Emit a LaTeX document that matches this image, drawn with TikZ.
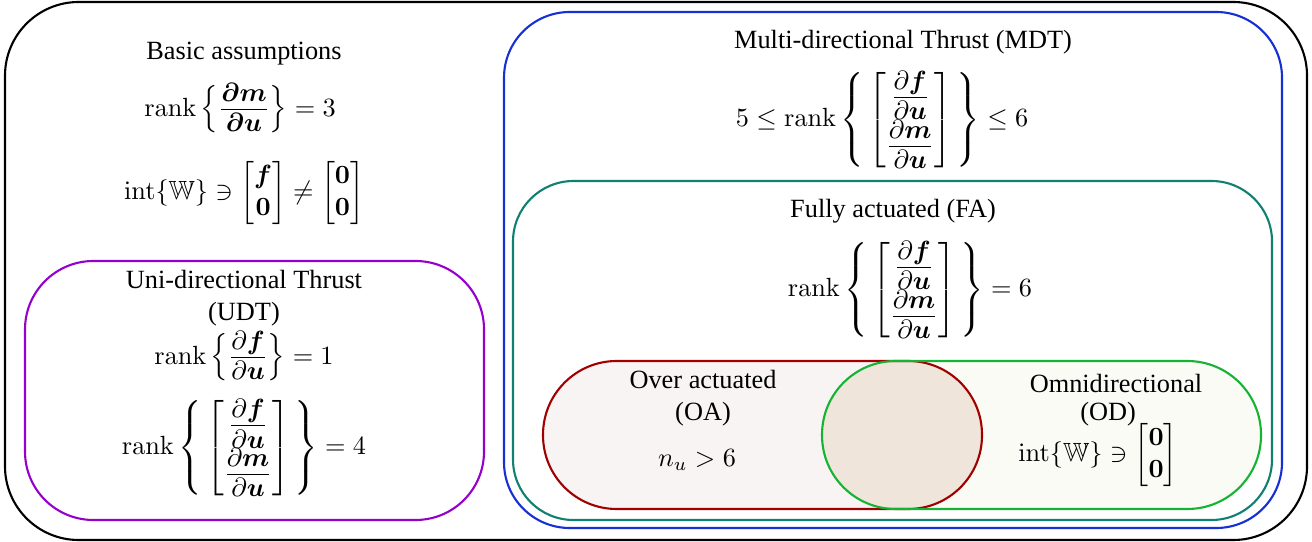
\documentclass[tikz,border=0pt]{standalone}
\usepackage{amsmath,amssymb}
\usepackage[no-math]{fontspec}
\setmainfont{Liberation Serif}
\definecolor{mdtblue}{RGB}{22,48,212}
\definecolor{fateal}{RGB}{16,128,112}
\definecolor{udtpurple}{RGB}{150,0,205}
\definecolor{oared}{RGB}{160,0,0}
\definecolor{odgreen}{RGB}{20,180,50}
\definecolor{oafill}{RGB}{248,244,243}
\definecolor{odfill}{RGB}{250,251,245}
\definecolor{lensfill}{RGB}{239,229,219}
\newcommand{\numstrut}{\rule[-2.6pt]{0pt}{2.6pt}}
\newcommand{\denstrut}{\rule{0pt}{7.8pt}}
\newcommand{\pdu}[1]{{\textstyle\frac{\textstyle\partial\boldsymbol{#1}\numstrut}{\textstyle\denstrut\partial\boldsymbol{u}}}}
\newcommand{\pdub}[1]{{\textstyle\frac{\textstyle\boldsymbol{\partial #1}\numstrut}{\textstyle\denstrut\boldsymbol{\partial u}}}}
\newcommand{\jacm}{\left\{\,\begin{bmatrix}\pdu{f}\\[0.5pt]\pdu{m}\end{bmatrix}\,\right\}}
\begin{document}
\begin{tikzpicture}[x=0.38pt,y=-0.38pt,
  setline/.style={line width=0.8pt},
  lbl/.style={align=center, inner sep=1pt}]
\useasboundingbox (0,0) rectangle (1312,542);
% sets
\draw[setline, black, rounded corners=28pt] (5,2) rectangle (1307,540);
\draw[setline, mdtblue, rounded corners=25pt] (504,12) rectangle (1282,528);
\draw[setline, fateal, rounded corners=23pt] (513,181) rectangle (1272,520);
\draw[setline, udtpurple, rounded corners=26pt] (25,261) rectangle (484,520);
\fill[oafill, rounded corners=28pt] (543,361) rectangle (982,509);
\fill[odfill, rounded corners=28pt] (822,361) rectangle (1261,509);
\begin{scope}
  \clip[rounded corners=28pt] (543,361) rectangle (982,509);
  \fill[lensfill, rounded corners=28pt] (822,361) rectangle (1261,509);
\end{scope}
\draw[setline, oared, rounded corners=28pt] (543,361) rectangle (982,509);
\draw[setline, odgreen, rounded corners=28pt] (822,361) rectangle (1261,509);
% basic assumptions
\node[lbl] (basic) at (244,54) {Basic assumptions};
\node[lbl] (basicrank) at (240,108) {$\displaystyle\operatorname{rank}\Big\{\pdub{m}\Big\}=3$};
\node[lbl] (basicint) at (244,193) {$\displaystyle\operatorname{int}\{\mathbb{W}\}\ni\begin{bmatrix}\boldsymbol{f}\\\mathbf{0}\end{bmatrix}\neq\begin{bmatrix}\mathbf{0}\\\mathbf{0}\end{bmatrix}$};
% UDT
\node[lbl] (udt) at (244,298) {Uni-directional Thrust\\(UDT)};
\node[lbl] (udtrank1) at (244,356) {$\displaystyle\operatorname{rank}\Big\{\pdu{f}\Big\}=1$};
\node[lbl] (udtrank4) at (244,448) {$\displaystyle\operatorname{rank}\jacm=4$};
% MDT
\node[lbl] (mdt) at (903,42) {Multi-directional Thrust (MDT)};
\node[lbl] (mdtrank) at (882,120) {$\displaystyle 5\leq\operatorname{rank}\jacm\leq 6$};
% FA
\node[lbl] (fa) at (893,211) {Fully actuated (FA)};
\node[lbl] (farank) at (910,290) {$\displaystyle\operatorname{rank}\jacm=6$};
% OA
\node[lbl] (oa) at (703,398) {Over actuated\\(OA)};
\node[lbl] (oacond) at (697,460) {$n_u>6$};
% OD
\node[lbl] (odname) at (1116,383) {Omnidirectional};
\node[lbl] (odabbr) at (1108,414) {(OD)};
\node[lbl] (odcond) at (1098,455) {$\displaystyle\operatorname{int}\{\mathbb{W}\}\ni\begin{bmatrix}\mathbf{0}\\\mathbf{0}\end{bmatrix}$};
\end{tikzpicture}
\end{document}
